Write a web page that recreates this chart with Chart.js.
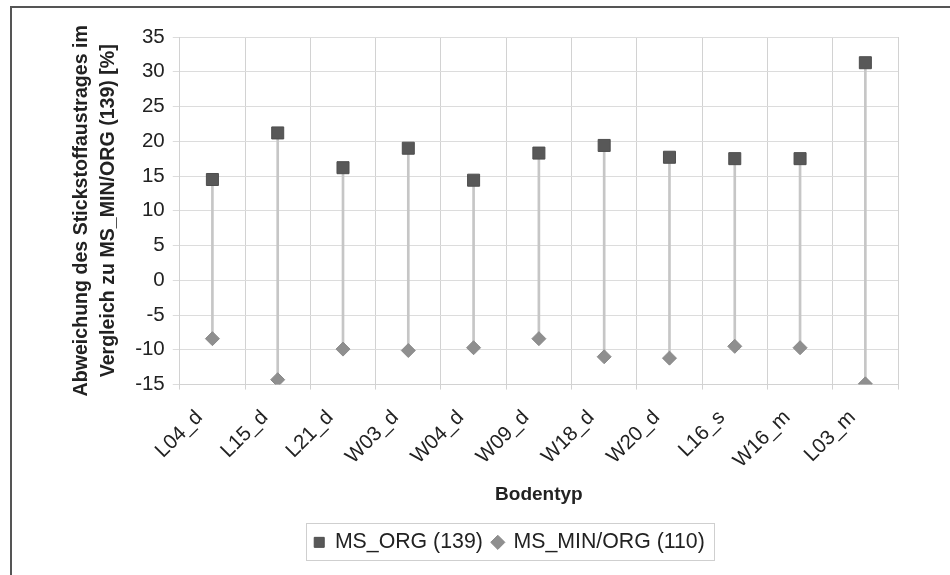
<!DOCTYPE html>
<html>
<head>
<meta charset="utf-8">
<script src="https://cdn.jsdelivr.net/npm/chart.js@4"></script>
<style>
  html, body { margin: 0; padding: 0; background: #fff; }
  #wrap { position: relative; width: 950px; height: 575px; overflow: hidden; }
  #frame { position: absolute; left: 10px; top: 6px; width: 960px; height: 600px;
           border-top: 2px solid #555; border-left: 2px solid #555; }
  #chart { position: absolute; left: 0; top: 0; }
</style>
</head>
<body>
<div id="wrap">
  <div id="frame"></div>
  <canvas id="chart" width="950" height="575"></canvas>
</div>
<script>
// ===== Abweichung des Stickstoffaustrages je Bodentyp =====
const bodentypen = ['L04_d', 'L15_d', 'L21_d', 'W03_d', 'W04_d', 'W09_d', 'W18_d', 'W20_d', 'L16_s', 'W16_m', 'L03_m'];
const msOrg = [14.5, 21.2, 16.2, 19.0, 14.4, 18.3, 19.4, 17.7, 17.5, 17.5, 31.3];
const msMinOrg = [-8.4, -14.3, -9.9, -10.1, -9.7, -8.4, -11.0, -11.2, -9.5, -9.7, -14.9];
const yTicks = [35, 30, 25, 20, 15, 10, 5, 0, -5, -10, -15];

const FONT = "'Liberation Sans', Arial, sans-serif";

// Rahmen um die Legende
const legendBoxPlugin = {
  id: 'legendBox',
  afterDraw(chart) {
    const lg = chart.legend;
    if (!lg || !lg.legendHitBoxes.length) return;
    const boxes = lg.legendHitBoxes;
    const left = Math.min(...boxes.map(b => b.left)) - 8;
    const right = Math.max(...boxes.map(b => b.left + b.width)) + 9;
    const top = Math.min(...boxes.map(b => b.top)) - 9;
    const bottom = Math.max(...boxes.map(b => b.top + b.height)) + 7;
    const ctx = chart.ctx;
    ctx.save();
    ctx.strokeStyle = '#cfcfcf';
    ctx.lineWidth = 1;
    ctx.strokeRect(Math.round(left) + 0.5, Math.round(top) + 0.5, Math.round(right - left), Math.round(bottom - top));
    ctx.restore();
  }
};

const ctx = document.getElementById('chart').getContext('2d');
new Chart(ctx, {
  data: {
    labels: bodentypen,
    datasets: [
      {
        type: 'line',
        label: 'MS_ORG (139)',
        data: msOrg,
        showLine: false,
        pointStyle: 'rect',
        pointRadius: 8.5,
        backgroundColor: '#585858',
        borderColor: '#4e4e4e',
        borderWidth: 1,
        order: 1
      },
      {
        type: 'line',
        label: 'MS_MIN/ORG (110)',
        data: msMinOrg,
        showLine: false,
        pointStyle: 'rectRot',
        pointRadius: 7,
        backgroundColor: '#8f8f8f',
        borderColor: '#8a8a8a',
        borderWidth: 1,
        order: 2
      },
      {
        type: 'bar',
        label: 'range',
        data: bodentypen.map((_, i) => [msMinOrg[i], msOrg[i]]),
        backgroundColor: '#c6c6c6',
        borderWidth: 0,
        barThickness: 2,
        order: 3
      }
    ]
  },
  options: {
    responsive: false,
    animation: false,
    layout: { padding: { left: 69, right: 0, top: 37, bottom: 12 } },
    plugins: {
      legend: {
        position: 'bottom',
        labels: {
          filter: (item) => item.text !== 'range',
          usePointStyle: true,
          boxWidth: 10,
          boxHeight: 10,
          padding: 10,
          color: '#222',
          font: { family: FONT, size: 21.3 }
        }
      },
      tooltip: { enabled: false }
    },
    scales: {
      x: {
        offset: true,
        grid: { offset: true, color: '#d2d2d2', lineWidth: 1, tickLength: 5, drawTicks: true },
        border: { color: '#d2d2d2' },
        ticks: { color: '#222', font: { family: FONT, size: 20.5 }, minRotation: 45, maxRotation: 45, padding: 16, labelOffset: -13 },
        title: { display: true, text: 'Bodentyp', color: '#222', font: { family: FONT, size: 19, weight: 'bold' }, padding: { top: 1, bottom: 16 } },
        // gedrehte Beschriftungen belegen weniger Platz als berechnet
        afterFit: (scale) => { scale.height = scale.height - 7; }
      },
      y: {
        min: -15,
        max: 35,
        afterBuildTicks: (scale) => { scale.ticks = yTicks.map(v => ({ value: v })); },
        grid: { color: '#dcdcdc', lineWidth: 1, drawTicks: true, tickLength: 7 },
        border: { color: '#d2d2d2' },
        ticks: { color: '#222', font: { family: FONT, size: 20.5 }, padding: 8 },
        title: {
          display: true,
          text: ['Abweichung des Stickstoffaustrages im', 'Vergleich zu MS_MIN/ORG (139) [%]'],
          color: '#222',
          font: { family: FONT, size: 19.6, weight: 'bold', lineHeight: 1.33 },
          padding: { top: 0, bottom: 6 }
        }
      },
      yRight: {
        position: 'right',
        display: true,
        grid: { display: false },
        border: { display: false },
        ticks: { display: false },
        afterFit: (scale) => { scale.width = 52; }
      }
    }
  },
  plugins: [legendBoxPlugin]
});
</script>
</body>
</html>
